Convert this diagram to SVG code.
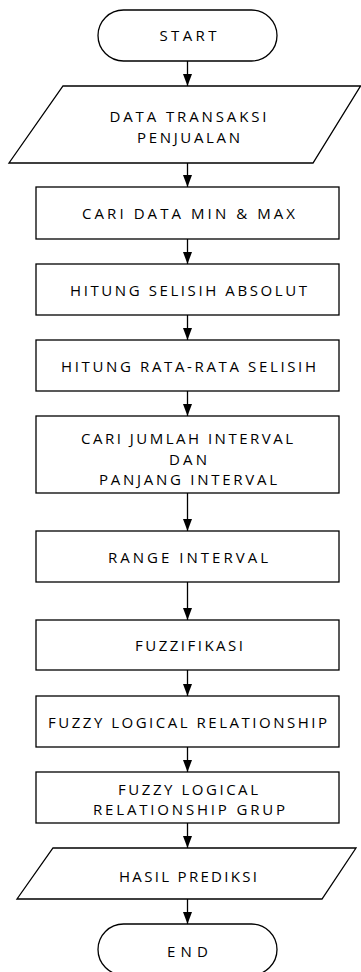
<svg xmlns="http://www.w3.org/2000/svg" width="361" height="972" viewBox="0 0 361 972">
<defs>
<style>
.s{fill:#fff;stroke:#000;stroke-width:1.3}
.t{font-family:"Open Sans","Liberation Sans",sans-serif;font-size:15px;fill:#000;text-anchor:middle}
.c line{stroke:#000;stroke-width:1.3}
</style>
<marker id="ah" markerUnits="userSpaceOnUse" markerWidth="12" markerHeight="9" refX="12" refY="4.5" orient="auto">
<path d="M0,0 L12,4.5 L0,9 Z" fill="#000"/>
</marker>
</defs>
<rect width="361" height="972" fill="#fff"/>
<g class="c" id="connectors">
<line x1="187.5" y1="61" x2="187.5" y2="86" marker-end="url(#ah)"/>
<line x1="187.5" y1="163" x2="187.5" y2="187" marker-end="url(#ah)"/>
<line x1="187.5" y1="239" x2="187.5" y2="264" marker-end="url(#ah)"/>
<line x1="187.5" y1="315" x2="187.5" y2="340" marker-end="url(#ah)"/>
<line x1="187.5" y1="391" x2="187.5" y2="416" marker-end="url(#ah)"/>
<line x1="187.5" y1="493" x2="187.5" y2="531" marker-end="url(#ah)"/>
<line x1="187.5" y1="582" x2="187.5" y2="620" marker-end="url(#ah)"/>
<line x1="187.5" y1="670" x2="187.5" y2="696" marker-end="url(#ah)"/>
<line x1="187.5" y1="747" x2="187.5" y2="772" marker-end="url(#ah)"/>
<line x1="187.5" y1="823" x2="187.5" y2="848" marker-end="url(#ah)"/>
<line x1="187.5" y1="899" x2="187.5" y2="924" marker-end="url(#ah)"/>
</g>
<g id="start">
<rect class="s" x="98" y="10" width="179" height="51" rx="25.5" ry="25.5"/>
<text class="t" x="188" y="41" textLength="57" lengthAdjust="spacing">START</text>
</g>
<g id="data">
<polygon class="s" points="63,86 360.5,86 313,163 9,163"/>
<text class="t" x="188" y="122" textLength="157" lengthAdjust="spacing">DATA TRANSAKSI</text>
<text class="t" x="188.5" y="142.5" textLength="103" lengthAdjust="spacing">PENJUALAN</text>
</g>
<g id="minmax">
<rect class="s" x="36" y="187" width="303" height="52"/>
<text class="t" x="188.5" y="219" textLength="213" lengthAdjust="spacing">CARI DATA MIN &amp; MAX</text>
</g>
<g id="selisih">
<rect class="s" x="36" y="264" width="303" height="51"/>
<text class="t" x="188.5" y="295.5" textLength="237" lengthAdjust="spacing">HITUNG SELISIH ABSOLUT</text>
</g>
<g id="rata">
<rect class="s" x="36" y="340" width="303" height="51"/>
<text class="t" x="188.5" y="371.5" textLength="255" lengthAdjust="spacing">HITUNG RATA-RATA SELISIH</text>
</g>
<g id="jumlah">
<rect class="s" x="36" y="416" width="303" height="77"/>
<text class="t" x="187" y="444" textLength="212" lengthAdjust="spacing">CARI JUMLAH INTERVAL</text>
<text class="t" x="188" y="464.5" textLength="38" lengthAdjust="spacing">DAN</text>
<text class="t" x="188" y="485" textLength="178" lengthAdjust="spacing">PANJANG INTERVAL</text>
</g>
<g id="range">
<rect class="s" x="36" y="531" width="303" height="51"/>
<text class="t" x="188" y="562.5" textLength="160" lengthAdjust="spacing">RANGE INTERVAL</text>
</g>
<g id="fuzzifikasi">
<rect class="s" x="36" y="620" width="303" height="50"/>
<text class="t" x="189" y="651" textLength="108" lengthAdjust="spacing">FUZZIFIKASI</text>
</g>
<g id="flr">
<rect class="s" x="36" y="696" width="303" height="51"/>
<text class="t" x="187.5" y="727.5" textLength="279" lengthAdjust="spacing">FUZZY LOGICAL RELATIONSHIP</text>
</g>
<g id="flrg">
<rect class="s" x="36" y="772" width="303" height="51"/>
<text class="t" x="188" y="794.5" textLength="140" lengthAdjust="spacing">FUZZY LOGICAL</text>
<text class="t" x="189" y="815" textLength="192" lengthAdjust="spacing">RELATIONSHIP GRUP</text>
</g>
<g id="hasil">
<polygon class="s" points="53,848 356,848 322,899 17,899"/>
<text class="t" x="188" y="881.5" textLength="138" lengthAdjust="spacing">HASIL PREDIKSI</text>
</g>
<g id="end">
<rect class="s" x="98" y="924" width="179" height="51" rx="25.5" ry="25.5"/>
<text class="t" x="187.5" y="956.5" textLength="41" lengthAdjust="spacing">END</text>
</g>
</svg>
